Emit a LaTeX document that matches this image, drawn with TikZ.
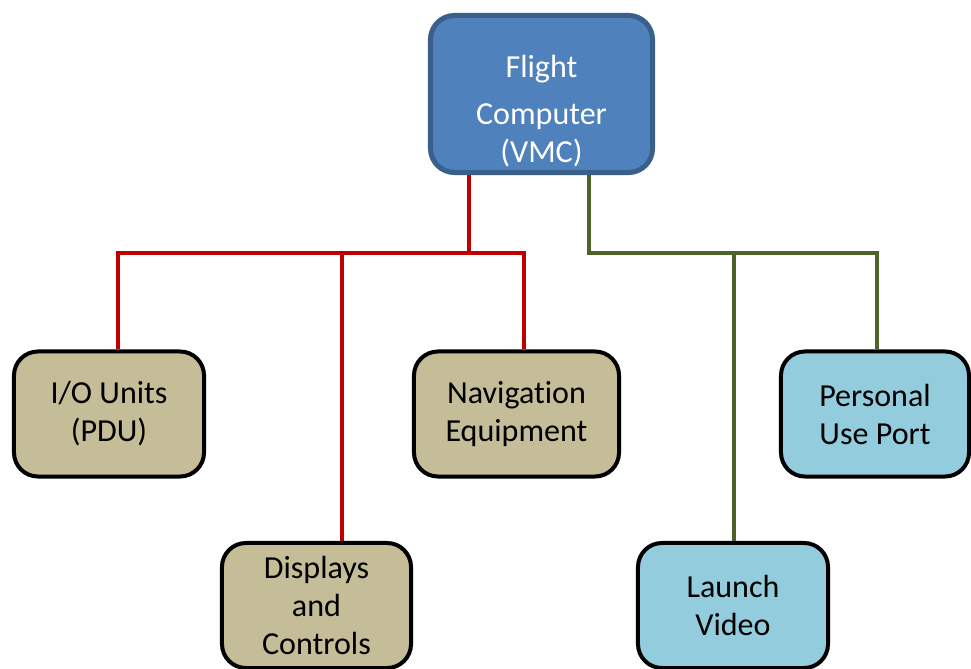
\documentclass[tikz,border=0pt]{standalone}
\usepackage{fontspec}
\setmainfont{Carlito}[Ligatures=NoCommon]
\definecolor{vmcblue}{HTML}{4F81BD}
\definecolor{vmcedge}{HTML}{3A5F8B}
\definecolor{unittan}{HTML}{C4BD97}
\definecolor{unitblue}{HTML}{93CDDD}
\definecolor{busred}{HTML}{C00000}
\definecolor{busgreen}{HTML}{4F6228}
\tikzset{
  unit/.style={draw=black, line width=0.1cm, rounded corners=0.6cm, align=center,
    minimum height=3.125cm, font=\fontsize{22.8}{27}\selectfont},
  redbus/.style={busred, line width=0.1cm},
  greenbus/.style={busgreen, line width=0.1cm}
}
\newcommand{\unitbox}[6]{\node[unit,fill=#5,minimum width=#4cm] (#1) at (#2,#3) {#6};}

\begin{document}
\begin{tikzpicture}[x=0.025cm,y=-0.025cm]
    \useasboundingbox (0,0) rectangle (971,669);
    \node[unit, fill=vmcblue, draw=vmcedge, line width=0.125cm, text=white,
      minimum width=5.55cm, minimum height=3.925cm] (fc) at (541.5,94)
      {\mbox{}\\[13pt]Flight\\[6pt]Computer\\(VMC)};
    % red side
    \unitbox{io}{109}{414}{4.75}{unittan}{I/O Units\\(PDU)}
    \unitbox{nav}{516.5}{414}{5.125}{unittan}{Navigation\\Equipment}
    \unitbox{disp}{316.5}{605.5}{4.725}{unittan}{Displays\\and\\Controls}
    % green side
    \unitbox{pup}{875}{414}{4.7}{unitblue}{Personal\\Use Port}
    \unitbox{lv}{733}{605.5}{4.75}{unitblue}{Launch\\Video}
    \draw[redbus] (fc.south -| 469,0) -- (469,253);
    \draw[redbus] (io.north -| 118,0) |- (524,253) -- (nav.north -| 524,0);
    \draw[redbus] (342,253) -- (disp.north -| 342,0);
    \draw[greenbus] (fc.south -| 589,0) |- (877,253) -- (pup.north -| 877,0);
    \draw[greenbus] (734,253) -- (lv.north -| 734,0);
\end{tikzpicture}
\end{document}
